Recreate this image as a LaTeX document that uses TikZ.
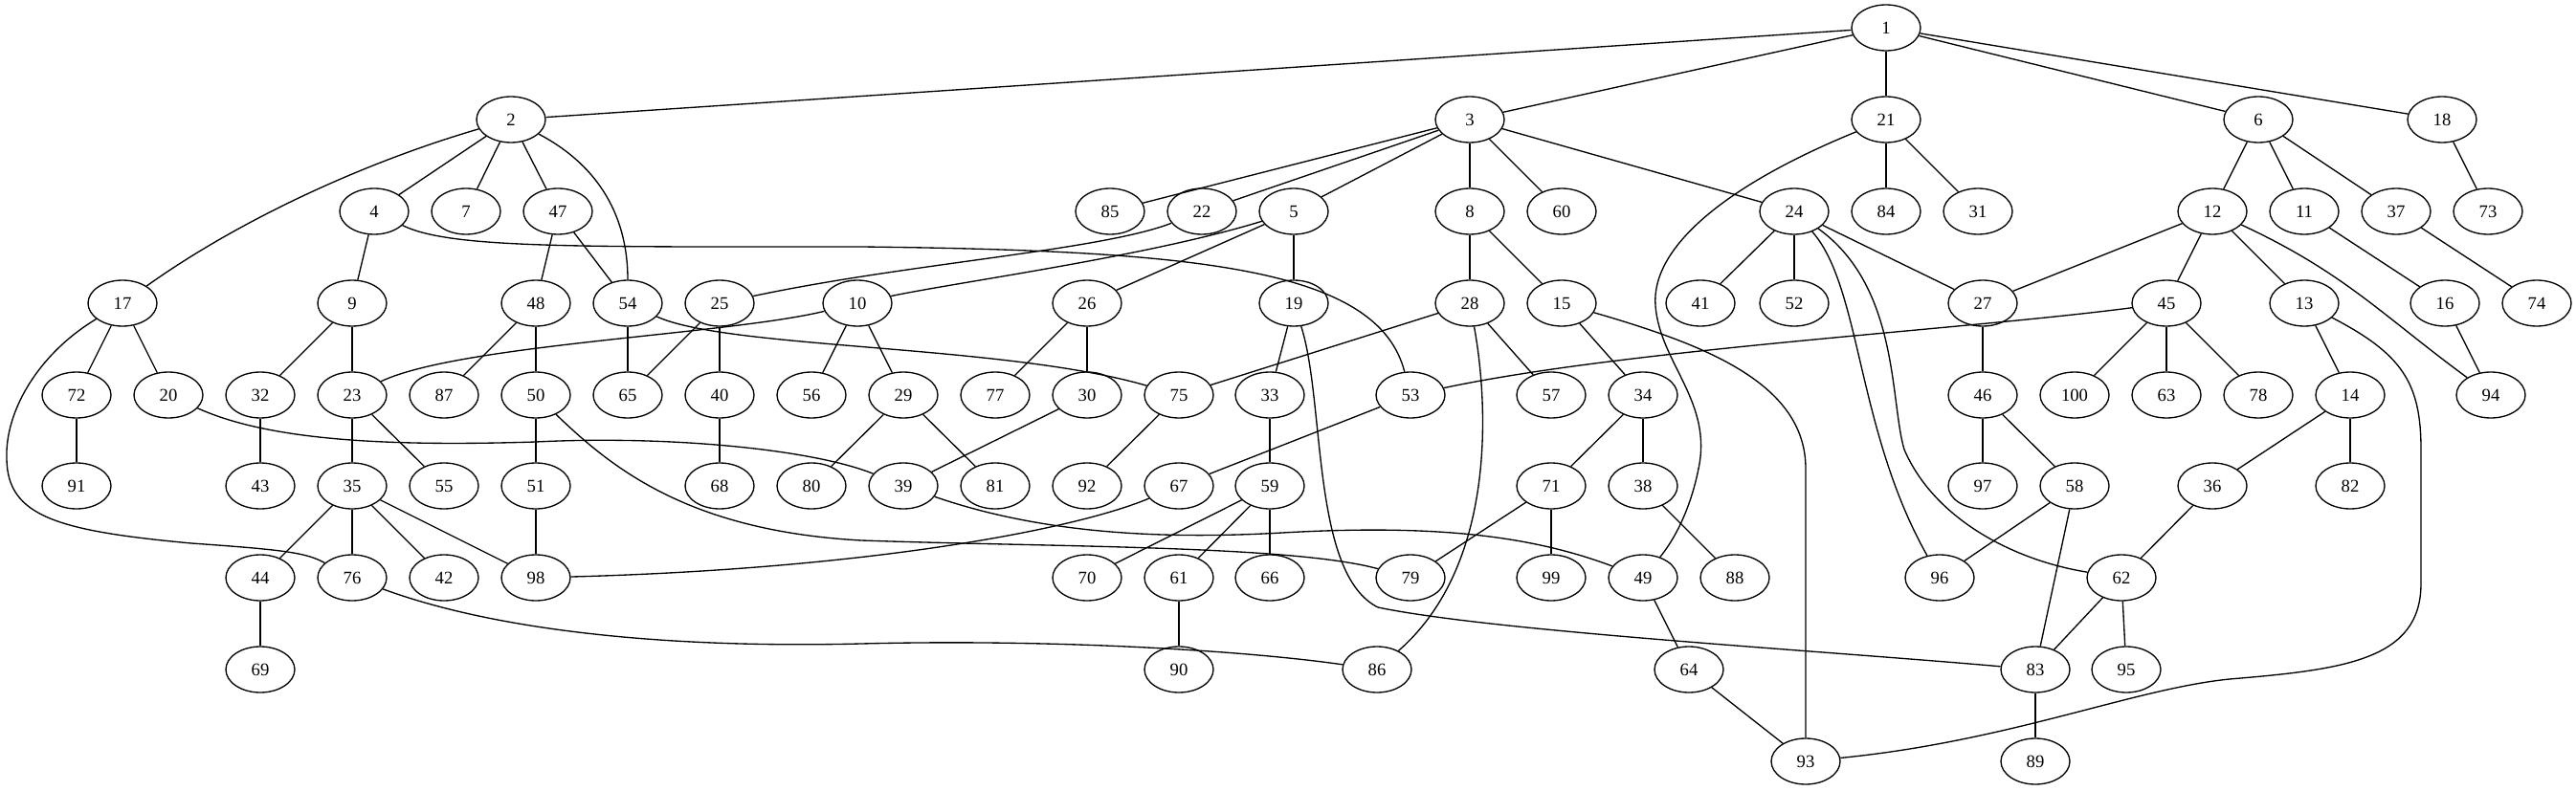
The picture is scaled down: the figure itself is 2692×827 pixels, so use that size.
\documentclass[tikz,border=0pt]{standalone}
\usepackage{fontspec}
\setmainfont{Liberation Serif}
\usetikzlibrary{shapes.geometric}

\begin{document}
\begin{tikzpicture}[x=0.75pt, y=0.75pt, line width=1pt,
    vertex/.style={ellipse, draw, minimum width=54pt, minimum height=36pt, inner sep=0pt,
                   font=\fontsize{14pt}{16pt}\selectfont}]
  \useasboundingbox (0,0) rectangle (2692,-827);
  % Row 0 and 1
  \node[vertex] (n1) at (1971,-29) {1};
  \node[vertex] (n2) at (534,-125) {2};
  \node[vertex] (n3) at (1536,-125) {3};
  \node[vertex] (n21) at (1971,-125) {21};
  \node[vertex] (n6) at (2360,-125) {6};
  \node[vertex] (n18) at (2552,-125) {18};
  % Row 2
  \node[vertex] (n4) at (391,-221) {4};
  \node[vertex] (n7) at (487,-221) {7};
  \node[vertex] (n47) at (583,-221) {47};
  \node[vertex] (n85) at (1160,-221) {85};
  \node[vertex] (n22) at (1256,-221) {22};
  \node[vertex] (n5) at (1352,-221) {5};
  \node[vertex] (n8) at (1536,-221) {8};
  \node[vertex] (n60) at (1632,-221) {60};
  \node[vertex] (n24) at (1875,-221) {24};
  \node[vertex] (n84) at (1971,-221) {84};
  \node[vertex] (n31) at (2067,-221) {31};
  \node[vertex] (n12) at (2312,-221) {12};
  \node[vertex] (n11) at (2408,-221) {11};
  \node[vertex] (n37) at (2504,-221) {37};
  \node[vertex] (n73) at (2600,-221) {73};
  % Row 3
  \node[vertex] (n17) at (128,-317) {17};
  \node[vertex] (n9) at (368,-317) {9};
  \node[vertex] (n48) at (560,-317) {48};
  \node[vertex] (n54) at (656,-317) {54};
  \node[vertex] (n25) at (752,-317) {25};
  \node[vertex] (n10) at (896,-317) {10};
  \node[vertex] (n26) at (1136,-317) {26};
  \node[vertex] (n19) at (1352,-317) {19};
  \node[vertex] (n28) at (1536,-317) {28};
  \node[vertex] (n15) at (1632,-317) {15};
  \node[vertex] (n41) at (1777,-317) {41};
  \node[vertex] (n52) at (1875,-317) {52};
  \node[vertex] (n27) at (2072,-317) {27};
  \node[vertex] (n45) at (2264,-317) {45};
  \node[vertex] (n13) at (2408,-317) {13};
  \node[vertex] (n16) at (2555,-317) {16};
  \node[vertex] (n74) at (2651,-317) {74};
  % Row 4
  \node[vertex] (n72) at (80,-413) {72};
  \node[vertex] (n20) at (176,-413) {20};
  \node[vertex] (n32) at (272,-413) {32};
  \node[vertex] (n23) at (368,-413) {23};
  \node[vertex] (n87) at (464,-413) {87};
  \node[vertex] (n50) at (560,-413) {50};
  \node[vertex] (n65) at (656,-413) {65};
  \node[vertex] (n40) at (752,-413) {40};
  \node[vertex] (n56) at (848,-413) {56};
  \node[vertex] (n29) at (944,-413) {29};
  \node[vertex] (n77) at (1040,-413) {77};
  \node[vertex] (n30) at (1136,-413) {30};
  \node[vertex] (n75) at (1232,-413) {75};
  \node[vertex] (n33) at (1327,-413) {33};
  \node[vertex] (n53) at (1474,-413) {53};
  \node[vertex] (n57) at (1621,-413) {57};
  \node[vertex] (n34) at (1717,-413) {34};
  \node[vertex] (n46) at (2072,-413) {46};
  \node[vertex] (n100) at (2168,-413) {100};
  \node[vertex] (n63) at (2264,-413) {63};
  \node[vertex] (n78) at (2360,-413) {78};
  \node[vertex] (n14) at (2456,-413) {14};
  \node[vertex] (n94) at (2603,-413) {94};
  % Row 5
  \node[vertex] (n91) at (80,-508) {91};
  \node[vertex] (n43) at (272,-508) {43};
  \node[vertex] (n35) at (368,-508) {35};
  \node[vertex] (n55) at (464,-508) {55};
  \node[vertex] (n51) at (560,-508) {51};
  \node[vertex] (n68) at (752,-508) {68};
  \node[vertex] (n80) at (848,-508) {80};
  \node[vertex] (n39) at (944,-508) {39};
  \node[vertex] (n81) at (1040,-508) {81};
  \node[vertex] (n92) at (1136,-508) {92};
  \node[vertex] (n67) at (1232,-508) {67};
  \node[vertex] (n59) at (1327,-508) {59};
  \node[vertex] (n71) at (1621,-508) {71};
  \node[vertex] (n38) at (1717,-508) {38};
  \node[vertex] (n97) at (2072,-508) {97};
  \node[vertex] (n58) at (2168,-508) {58};
  \node[vertex] (n36) at (2312,-508) {36};
  \node[vertex] (n82) at (2456,-508) {82};
  % Row 6
  \node[vertex] (n44) at (272,-604) {44};
  \node[vertex] (n76) at (368,-604) {76};
  \node[vertex] (n42) at (464,-604) {42};
  \node[vertex] (n98) at (560,-604) {98};
  \node[vertex] (n70) at (1136,-604) {70};
  \node[vertex] (n61) at (1232,-604) {61};
  \node[vertex] (n66) at (1327,-604) {66};
  \node[vertex] (n79) at (1474,-604) {79};
  \node[vertex] (n99) at (1621,-604) {99};
  \node[vertex] (n49) at (1717,-604) {49};
  \node[vertex] (n88) at (1813,-604) {88};
  \node[vertex] (n96) at (2027,-604) {96};
  \node[vertex] (n62) at (2217,-604) {62};
  % Row 7 and 8
  \node[vertex] (n69) at (272,-700) {69};
  \node[vertex] (n90) at (1232,-700) {90};
  \node[vertex] (n86) at (1439,-700) {86};
  \node[vertex] (n64) at (1765,-700) {64};
  \node[vertex] (n83) at (2127,-700) {83};
  \node[vertex] (n95) at (2222,-700) {95};
  \node[vertex] (n93) at (1887,-796) {93};
  \node[vertex] (n89) at (2127,-796) {89};

  % Straight edges
  \draw (n1) -- (n2);
  \draw (n1) -- (n3);
  \draw (n1) -- (n21);
  \draw (n1) -- (n6);
  \draw (n1) -- (n18);
  \draw (n2) -- (n4);
  \draw (n2) -- (n7);
  \draw (n2) -- (n47);
  \draw (n3) -- (n85);
  \draw (n3) -- (n22);
  \draw (n3) -- (n5);
  \draw (n3) -- (n8);
  \draw (n3) -- (n60);
  \draw (n3) -- (n24);
  \draw (n21) -- (n84);
  \draw (n21) -- (n31);
  \draw (n6) -- (n12);
  \draw (n6) -- (n11);
  \draw (n6) -- (n37);
  \draw (n18) -- (n73);
  \draw (n4) -- (n9);
  \draw (n47) -- (n48);
  \draw (n47) -- (n54);
  \draw (n5) -- (n19);
  \draw (n5) -- (n26);
  \draw (n8) -- (n28);
  \draw (n8) -- (n15);
  \draw (n24) -- (n41);
  \draw (n24) -- (n52);
  \draw (n24) -- (n27);
  \draw (n12) -- (n27);
  \draw (n12) -- (n45);
  \draw (n12) -- (n13);
  \draw (n11) -- (n16);
  \draw (n37) -- (n74);
  \draw (n17) -- (n72);
  \draw (n17) -- (n20);
  \draw (n9) -- (n32);
  \draw (n9) -- (n23);
  \draw (n48) -- (n87);
  \draw (n48) -- (n50);
  \draw (n54) -- (n65);
  \draw (n25) -- (n65);
  \draw (n25) -- (n40);
  \draw (n10) -- (n56);
  \draw (n10) -- (n29);
  \draw (n26) -- (n77);
  \draw (n26) -- (n30);
  \draw (n19) -- (n33);
  \draw (n28) -- (n75);
  \draw (n28) -- (n57);
  \draw (n15) -- (n34);
  \draw (n27) -- (n46);
  \draw (n45) -- (n100);
  \draw (n45) -- (n63);
  \draw (n45) -- (n78);
  \draw (n13) -- (n14);
  \draw (n16) -- (n94);
  \draw (n72) -- (n91);
  \draw (n32) -- (n43);
  \draw (n23) -- (n35);
  \draw (n23) -- (n55);
  \draw (n50) -- (n51);
  \draw (n40) -- (n68);
  \draw (n29) -- (n80);
  \draw (n29) -- (n81);
  \draw (n30) -- (n39);
  \draw (n75) -- (n92);
  \draw (n33) -- (n59);
  \draw (n53) -- (n67);
  \draw (n34) -- (n71);
  \draw (n34) -- (n38);
  \draw (n46) -- (n97);
  \draw (n46) -- (n58);
  \draw (n14) -- (n36);
  \draw (n14) -- (n82);
  \draw (n35) -- (n44);
  \draw (n35) -- (n76);
  \draw (n35) -- (n42);
  \draw (n35) -- (n98);
  \draw (n51) -- (n98);
  \draw (n59) -- (n70);
  \draw (n59) -- (n61);
  \draw (n59) -- (n66);
  \draw (n71) -- (n79);
  \draw (n71) -- (n99);
  \draw (n38) -- (n88);
  \draw (n58) -- (n96);
  \draw (n58) -- (n83);
  \draw (n36) -- (n62);
  \draw (n44) -- (n69);
  \draw (n61) -- (n90);
  \draw (n49) -- (n64);
  \draw (n62) -- (n83);
  \draw (n62) -- (n95);
  \draw (n64) -- (n93);
  \draw (n83) -- (n89);

  % Curved edges
  \draw (n2) .. controls (380,-170) and (250,-230) .. (n17);
  \draw (n2) .. controls (620,-170) and (656,-220) .. (n54);
  \draw (n21) .. controls (1800,-195) and (1725,-260) .. (1730,-320)
              .. controls (1735,-380) and (1790,-420) .. (1775,-490)
              .. controls (1765,-540) and (1745,-570) .. (n49);
  \draw (n4) .. controls (470,-260) and (600,-258) .. (900,-258)
             .. controls (1250,-262) and (1440,-280) .. (n53);
  \draw (n22) .. controls (1150,-262) and (950,-275) .. (n25);
  \draw (n5) .. controls (1200,-268) and (1000,-295) .. (n10);
  \draw (n10) .. controls (760,-350) and (480,-360) .. (n23);
  \draw (n54) .. controls (760,-365) and (1050,-360) .. (n75);
  \draw (n19) .. controls (1385,-420) and (1370,-600) .. (1440,-635)
              .. controls (1560,-660) and (1900,-680) .. (n83);
  \draw (n28) .. controls (1555,-420) and (1565,-590) .. (n86);
  \draw (n15) .. controls (1780,-360) and (1887,-400) .. (1887,-490) -- (n93);
  \draw (n13) .. controls (2510,-370) and (2530,-400) .. (2530,-470) -- (2530,-610)
              .. controls (2530,-690) and (2450,-700) .. (2330,-710)
              .. controls (2230,-720) and (2100,-775) .. (n93);
  \draw (n12) .. controls (2450,-285) and (2490,-330) .. (n94);
  \draw (n24) .. controls (1945,-300) and (1940,-450) .. (n96);
  \draw (n24) .. controls (1985,-300) and (1975,-420) .. (1990,-470)
              .. controls (2020,-540) and (2100,-585) .. (n62);
  \draw (n45) .. controls (2050,-345) and (1700,-365) .. (n53);
  \draw (n17) .. controls (40,-370) and (5,-430) .. (7,-480)
              .. controls (8,-540) and (60,-555) .. (200,-568)
              .. controls (300,-575) and (320,-578) .. (n76);
  \draw (n20) .. controls (280,-460) and (400,-467) .. (560,-462)
              .. controls (700,-455) and (850,-470) .. (n39);
  \draw (n50) .. controls (640,-490) and (720,-555) .. (900,-565)
              .. controls (1100,-572) and (1350,-570) .. (n79);
  \draw (n39) .. controls (1080,-555) and (1200,-565) .. (1340,-557)
              .. controls (1500,-548) and (1600,-560) .. (n49);
  \draw (n67) .. controls (1120,-555) and (900,-595) .. (n98);
  \draw (n76) .. controls (520,-660) and (700,-678) .. (900,-673)
              .. controls (1100,-668) and (1300,-680) .. (n86);
\end{tikzpicture}
\end{document}
